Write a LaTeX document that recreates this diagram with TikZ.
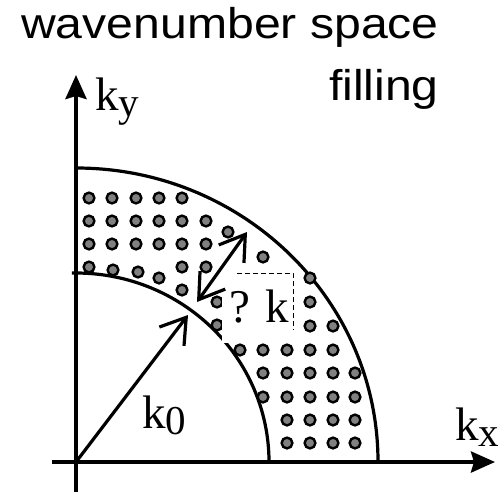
\documentclass[tikz,border=0pt]{standalone}
\usepackage{fontspec}
\setmainfont{Liberation Serif}
\newfontfamily\titlefont{Liberation Sans}
\usetikzlibrary{arrows.meta}
\newcommand\ksub[1]{k\raisebox{-6pt}{\fontsize{41}{41}\selectfont #1}}
\begin{document}
\begin{tikzpicture}[x=1pt,y=-1pt,
  axisline/.style={line width=4pt, -{Stealth[length=24pt,width=21pt,inset=3pt]}},
  bound/.style={line width=3.2pt},
  vec/.style={line width=3.2pt, -{Straight Barb[length=24pt,width=31pt]}},
  dvec/.style={line width=3.2pt, {Straight Barb[length=24pt,width=31pt]}-{Straight Barb[length=24pt,width=31pt]}},
  dotc/.style={fill=gray, draw=black, line width=2.4pt},
  lab/.style={anchor=base west, inner sep=0, font=\fontsize{47}{47}\selectfont},
  ttl/.style={anchor=base east, inner sep=0},
]
\useasboundingbox (0,0) rectangle (502,493);
% coordinates
\coordinate (O) at (76,462);
\coordinate (xl) at (52,462);
\coordinate (xr) at (495,462);
\coordinate (yb) at (76,492);
\coordinate (yt) at (76,75);
\coordinate (k0tip) at (188,315);
\coordinate (dka) at (197,302);
\coordinate (dkb) at (247,232);
% boundaries
\draw[bound] (O) ++(193,0) arc[start angle=0, end angle=-91.2, x radius=193, y radius=189];
\draw[bound] (O) ++(302,0) arc[start angle=0, end angle=-90, x radius=302, y radius=294];
% dots
\foreach \p in {(89,198),(112,198),(136,198),(159,198),(182,198),
  (89,221),(112,221),(136,221),(159,221),(182,221),(206,221),
  (89,244),(112,244),(136,244),(159,244),(182,244),(206,244),
  (89,267),(113,270),(138,272),(159,278),(182,267),(206,267),
  (182,290),(228,232),(263,257),(217,302),(217,325),
  (310,278),(310,302),(310,326),(333,326),
  (240,350),(263,350),(287,350),(310,350),(333,350),
  (263,373),(287,373),(310,373),(333,373),(355,373),
  (263,397),(287,397),(310,397),(333,397),(355,397),
  (287,420),(310,420),(333,420),(355,420),
  (287,443),(310,443),(333,443),(355,443)}
  \draw[dotc] \p circle[radius=5.4pt];
% text box for ?k
\fill[white] (222,273) rectangle (294,343);
\draw[line width=1pt, dash pattern=on 5pt off 3pt] (237,273) -- (293,273) -- (293,330);
\node[lab] (dk) at (229,322) {? k};
% axes
\draw[axisline] (xl) -- (xr);
\draw[axisline] (yb) -- (yt);
% vectors
\draw[vec] (O) -- (k0tip);
\draw[dvec] (dka) -- (dkb);
% labels
\node[lab] (kx) at (455,440) {\ksub{x}};
\node[lab] (ky) at (95,110) {\ksub{y}};
\node[lab] (k0) at (142,428) {\ksub{0}};
% title
\node[ttl] (t1) at (439,38) {\scalebox{1.12}[1]{\titlefont\fontsize{43}{43}\selectfont wavenumber space}};
\node[ttl] (t2) at (439,100) {\scalebox{1.12}[1]{\titlefont\fontsize{43}{43}\selectfont filling}};
\end{tikzpicture}
\end{document}
